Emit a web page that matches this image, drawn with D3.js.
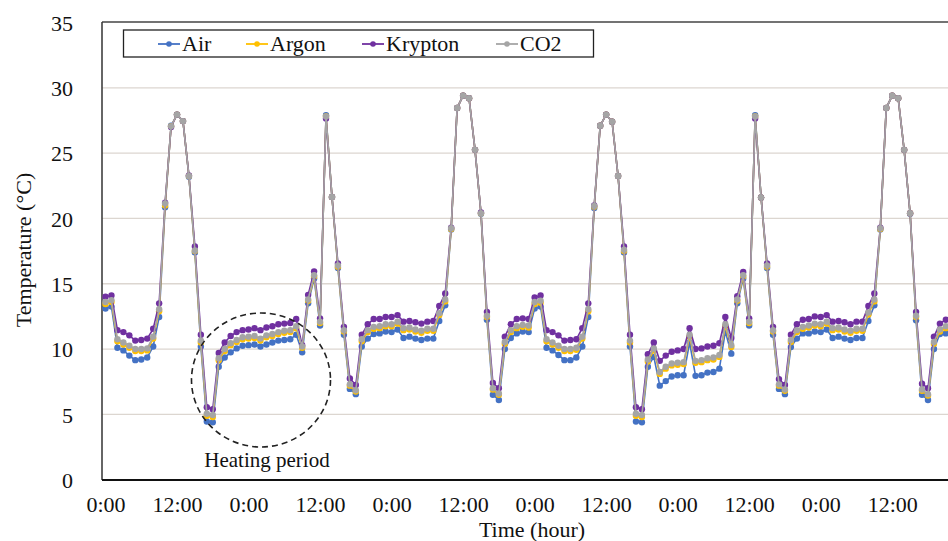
<!DOCTYPE html>
<html><head><meta charset="utf-8">
<script src="https://cdn.jsdelivr.net/npm/d3@7"></script>
<style>body{margin:0;background:#fff}svg{display:block}text{font-family:"Liberation Serif","Times New Roman",serif;fill:#111}</style>
</head><body><svg id="c" width="948" height="541"></svg>
<script>
const seriesNames = ["Air","Argon","Krypton","CO2"];
const seriesColors = ["#4472C4","#FFC000","#7030A0","#A5A5A5"];
const hours = d3.range(0,142);
const yTicks = [0,5,10,15,20,25,30,35];
const xTickHours = d3.range(0,144,12);
const xTickLabels = xTickHours.map(h => (h % 24 === 0) ? "0:00" : "12:00");

const krypton = [14.0,14.1,11.45,11.3,11.05,10.65,10.7,10.8,11.55,13.5,21.2,27.0,27.95,27.45,23.3,17.85,11.1,5.55,5.4,9.7,
10.5,11.0,11.3,11.45,11.5,11.6,11.45,11.65,11.75,11.9,11.95,12.0,12.3,10.3,14.15,15.95,12.35,27.65,21.65,16.55,
11.7,7.75,7.25,11.1,11.9,12.3,12.3,12.45,12.45,12.6,12.1,12.15,12.05,11.95,12.1,12.15,13.3,14.25,19.3,28.45,
29.4,29.2,25.25,20.45,12.85,7.4,7.0,10.95,11.9,12.3,12.35,12.3,13.95,14.1,11.45,11.3,11.05,10.65,10.7,10.75,
11.6,13.5,21.0,27.1,27.95,27.4,23.25,17.85,11.1,5.55,5.4,9.6,10.5,9.1,9.5,9.8,9.9,10.0,11.6,10.0,
10.05,10.2,10.25,10.45,12.45,10.85,14.05,15.9,12.35,27.65,21.6,16.55,11.7,7.7,7.25,11.1,11.9,12.25,12.3,12.5,
12.45,12.6,12.1,12.15,12.05,11.9,12.1,12.1,13.3,14.25,19.3,28.45,29.4,29.2,25.25,20.4,12.85,7.35,7.0,10.95,
11.95,12.25];
const co2 = [13.6,13.75,10.75,10.5,10.25,10.0,10.0,10.05,10.95,13.05,21.15,27.05,27.95,27.45,23.25,17.55,10.65,5.05,4.95,9.3,
10.0,10.45,10.7,10.9,10.95,11.0,10.8,11.05,11.15,11.3,11.4,11.45,11.75,10.2,13.8,15.65,12.1,27.8,21.65,16.4,
11.45,7.3,6.85,10.75,11.45,11.7,11.75,11.9,11.9,12.1,11.6,11.65,11.5,11.4,11.55,11.55,12.75,13.8,19.25,28.45,
29.4,29.2,25.25,20.4,12.55,7.0,6.6,10.55,11.45,11.75,11.85,11.8,13.6,13.7,10.75,10.5,10.25,10.0,10.0,10.1,
10.95,13.05,20.95,27.1,27.95,27.4,23.25,17.6,10.65,5.05,4.95,9.2,10.05,8.25,8.65,8.9,8.95,9.0,11.1,9.1,
9.15,9.3,9.35,9.55,11.9,10.3,13.8,15.65,12.1,27.8,21.6,16.4,11.45,7.3,6.9,10.7,11.45,11.7,11.8,11.95,
11.9,12.1,11.6,11.65,11.5,11.4,11.55,11.55,12.8,13.8,19.25,28.45,29.4,29.2,25.25,20.4,12.55,6.9,6.55,10.55,
11.5,11.75];
const argon = [13.45,13.6,10.6,10.35,10.1,9.85,9.85,9.9,10.8,12.9,21.0,27.05,27.95,27.45,23.25,17.5,10.5,4.9,4.8,9.15,
9.85,10.3,10.55,10.75,10.8,10.85,10.65,10.9,11.0,11.15,11.25,11.3,11.6,10.1,13.7,15.55,12.0,27.8,21.65,16.3,
11.35,7.2,6.75,10.6,11.3,11.55,11.6,11.75,11.75,11.95,11.45,11.5,11.35,11.25,11.4,11.4,12.6,13.65,19.2,28.45,
29.4,29.2,25.25,20.4,12.45,6.9,6.5,10.4,11.3,11.6,11.7,11.65,13.45,13.55,10.6,10.35,10.1,9.85,9.85,9.95,
10.8,12.9,20.9,27.1,27.95,27.4,23.25,17.5,10.5,4.9,4.8,9.05,9.9,8.1,8.5,8.75,8.8,8.85,10.95,8.95,
9.0,9.15,9.2,9.4,11.75,10.15,13.7,15.55,12.0,27.8,21.6,16.3,11.35,7.2,6.8,10.55,11.3,11.55,11.65,11.8,
11.75,11.95,11.45,11.5,11.35,11.25,11.4,11.4,12.65,13.65,19.2,28.45,29.4,29.2,25.25,20.4,12.45,6.8,6.45,10.4,
11.35,11.6];
const air = [13.1,13.25,10.1,9.9,9.5,9.15,9.2,9.35,10.2,12.45,20.85,27.1,27.95,27.45,23.2,17.4,10.2,4.45,4.4,8.65,
9.35,9.75,10.05,10.25,10.3,10.35,10.2,10.35,10.5,10.65,10.7,10.75,11.1,9.75,13.5,15.4,11.8,27.9,21.65,16.2,
11.1,6.95,6.55,10.2,10.8,11.15,11.2,11.35,11.3,11.5,10.85,10.95,10.8,10.7,10.8,10.8,12.15,13.35,19.15,28.45,
29.4,29.2,25.25,20.35,12.25,6.5,6.1,10.0,10.85,11.2,11.35,11.3,13.1,13.25,10.1,9.9,9.55,9.15,9.15,9.35,
10.2,12.45,20.8,27.1,27.95,27.4,23.25,17.4,10.2,4.45,4.4,8.65,9.4,7.2,7.55,7.9,8.0,8.0,10.5,7.95,
8.0,8.2,8.25,8.5,11.35,9.65,13.5,15.4,11.8,27.9,21.6,16.2,11.1,6.95,6.55,10.15,10.8,11.2,11.2,11.35,
11.3,11.5,10.85,10.95,10.8,10.7,10.85,10.85,12.15,13.35,19.15,28.45,29.4,29.2,25.25,20.35,12.2,6.5,6.1,10.0,
11.15,11.2];
const seriesValues = [air, argon, krypton, co2];

const svg = d3.select("#c");
const pLeft = 102, pTop = 22, pBottom = 480, pRight = 970;
const x = d3.scaleLinear().domain([0,144]).range([105.5, 105.5 + 5.96*144]);
const y = d3.scaleLinear().domain([0,35]).range([479.7, 22.5]);

// grid
svg.append("g").selectAll("line").data(yTicks.filter(t => t>0 && t<35)).join("line")
  .attr("x1", pLeft).attr("x2", pRight).attr("y1", d=>y(d)).attr("y2", d=>y(d))
  .attr("stroke","#dcd6d0").attr("stroke-width",1.3);

// y axis labels
const yAxis = d3.axisLeft(y).tickValues(yTicks).tickSize(0).tickPadding(0).tickFormat(d3.format("d"));
const gy = svg.append("g").attr("transform","translate(73,0)").call(yAxis);
gy.select(".domain").remove();
gy.selectAll("text").attr("font-size",22).attr("font-family","Liberation Serif").attr("fill","#111").attr("dy","0.35em");

// x axis labels
const xAxis = d3.axisBottom(x).tickValues(xTickHours).tickSize(0).tickPadding(0).tickFormat((d,i)=>xTickLabels[i]);
const gx = svg.append("g").attr("transform","translate(0,512)").call(xAxis);
gx.select(".domain").remove();
gx.selectAll("text").attr("font-size",22).attr("font-family","Liberation Serif").attr("fill","#111").attr("dy","0");

// frame
svg.append("line").attr("x1",pLeft).attr("x2",pRight).attr("y1",pTop).attr("y2",pTop).attr("stroke","#444").attr("stroke-width",1.5);
svg.append("line").attr("x1",pLeft).attr("x2",pLeft).attr("y1",pTop).attr("y2",pBottom).attr("stroke","#333").attr("stroke-width",1.5);
svg.append("line").attr("x1",pLeft).attr("x2",pRight).attr("y1",pBottom).attr("y2",pBottom).attr("stroke","#111").attr("stroke-width",2);

// series
const line = d3.line().x((d,i)=>x(hours[i])).y(d=>y(d));
seriesValues.forEach((vals,k)=>{
  const g = svg.append("g");
  g.append("path").datum(vals).attr("d", line).attr("fill","none")
    .attr("stroke", seriesColors[k]).attr("stroke-width",1.6);
  g.selectAll("circle").data(vals).join("circle")
    .attr("cx",(d,i)=>x(hours[i])).attr("cy",d=>y(d)).attr("r",3.2)
    .attr("fill",seriesColors[k]);
});

// heating period annotation
svg.append("ellipse").attr("cx",261).attr("cy",380).attr("rx",69.5).attr("ry",67)
  .attr("fill","none").attr("stroke","#222").attr("stroke-width",1.6).attr("stroke-dasharray","6,4");
svg.append("text").attr("x",267).attr("y",467).attr("text-anchor","middle").attr("font-size",21).text("Heating period");

// axis titles
svg.append("text").attr("x",532).attr("y",537).attr("text-anchor","middle").attr("font-size",22).text("Time (hour)");
svg.append("text").attr("transform","translate(31,250) rotate(-90)").attr("text-anchor","middle").attr("font-size",22).text("Temperature (°C)");

// legend
svg.append("rect").attr("x",123.5).attr("y",30).attr("width",470).attr("height",27)
  .attr("fill","#fff").attr("stroke","#222").attr("stroke-width",1.3);
const legX = [158, 246, 362, 496];
seriesNames.forEach((n,k)=>{
  const g = svg.append("g");
  g.append("line").attr("x1",legX[k]).attr("x2",legX[k]+22).attr("y1",44).attr("y2",44)
    .attr("stroke",seriesColors[k]).attr("stroke-width",1.8);
  g.append("circle").attr("cx",legX[k]+11).attr("cy",44).attr("r",2.8).attr("fill",seriesColors[k]);
  g.append("text").attr("x",legX[k]+24).attr("y",51).attr("font-size",22).text(n);
});
</script></body></html>
